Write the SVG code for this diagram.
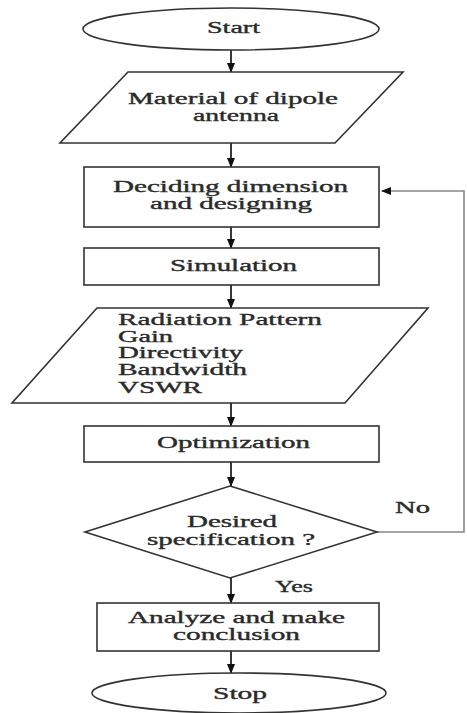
<svg xmlns="http://www.w3.org/2000/svg" width="467" height="713" viewBox="0 0 467 713">
<style>
.shape{fill:#fff;stroke:#333;stroke-width:1.6}
.t{font-family:"Liberation Serif","Times New Roman",serif;font-size:16px;fill:#2a2a2a;stroke:#2a2a2a;stroke-width:0.35}
.conn{stroke:#222;stroke-width:1.8;fill:none}
.fb{stroke:#888;stroke-width:1.6;fill:none}
</style>
<defs>
<marker id="ah" markerWidth="10" markerHeight="8" refX="9" refY="4" orient="auto" markerUnits="userSpaceOnUse">
<path d="M0,0 L10,4 L0,8 Z" fill="#111"/>
</marker>
</defs>
<rect width="467" height="713" fill="#fff"/>
<g id="connectors">
<line class="conn" x1="231" y1="50" x2="231" y2="72" marker-end="url(#ah)"/>
<line class="conn" x1="231" y1="143" x2="231" y2="167" marker-end="url(#ah)"/>
<line class="conn" x1="231" y1="227" x2="231" y2="248" marker-end="url(#ah)"/>
<line class="conn" x1="231" y1="285" x2="231" y2="308" marker-end="url(#ah)"/>
<line class="conn" x1="231" y1="403" x2="231" y2="426" marker-end="url(#ah)"/>
<line class="conn" x1="231" y1="462" x2="231" y2="486" marker-end="url(#ah)"/>
<line class="conn" x1="231" y1="578" x2="231" y2="603" marker-end="url(#ah)"/>
<line class="conn" x1="231" y1="651" x2="231" y2="673" marker-end="url(#ah)"/>
<path class="fb" d="M377,532 H464 V191 H382" marker-end="url(#ah)"/>
<text class="t" x="395" y="513" textLength="35" lengthAdjust="spacingAndGlyphs">No</text>
<text class="t" x="275" y="592" textLength="38" lengthAdjust="spacingAndGlyphs">Yes</text>
</g>
<g id="start">
<ellipse class="shape" cx="231" cy="29" rx="148" ry="21"/>
<text class="t" x="207" y="33" textLength="53" lengthAdjust="spacingAndGlyphs">Start</text>
</g>
<g id="material">
<polygon class="shape" points="128,72 403,72 335,143 60,143"/>
<text class="t" x="128" y="104" textLength="210" lengthAdjust="spacingAndGlyphs">Material of dipole</text>
<text class="t" x="193" y="121" textLength="86" lengthAdjust="spacingAndGlyphs">antenna</text>
</g>
<g id="deciding">
<rect class="shape" x="84" y="167" width="295" height="60"/>
<text class="t" x="113" y="192" textLength="235" lengthAdjust="spacingAndGlyphs">Deciding dimension</text>
<text class="t" x="150" y="209" textLength="162" lengthAdjust="spacingAndGlyphs">and designing</text>
</g>
<g id="simulation">
<rect class="shape" x="84" y="248" width="295" height="37"/>
<text class="t" x="170" y="271" textLength="127" lengthAdjust="spacingAndGlyphs">Simulation</text>
</g>
<g id="results">
<polygon class="shape" points="97,308 428,308 345,403 12,403"/>
<text class="t" x="118" y="325" textLength="204" lengthAdjust="spacingAndGlyphs">Radiation Pattern</text>
<text class="t" x="118" y="342" textLength="55" lengthAdjust="spacingAndGlyphs">Gain</text>
<text class="t" x="118" y="358" textLength="125" lengthAdjust="spacingAndGlyphs">Directivity</text>
<text class="t" x="118" y="375" textLength="129" lengthAdjust="spacingAndGlyphs">Bandwidth</text>
<text class="t" x="118" y="393" textLength="84" lengthAdjust="spacingAndGlyphs">VSWR</text>
</g>
<g id="optimization">
<rect class="shape" x="84" y="426" width="295" height="36"/>
<text class="t" x="157" y="448" textLength="153" lengthAdjust="spacingAndGlyphs">Optimization</text>
</g>
<g id="decision">
<polygon class="shape" points="230,486 377,532 230,578 85,532"/>
<text class="t" x="187" y="527" textLength="90" lengthAdjust="spacingAndGlyphs">Desired</text>
<text class="t" x="147" y="545" textLength="168" lengthAdjust="spacingAndGlyphs">specification ?</text>
</g>
<g id="analyze">
<rect class="shape" x="97" y="603" width="282" height="48"/>
<text class="t" x="128" y="623" textLength="217" lengthAdjust="spacingAndGlyphs">Analyze and make</text>
<text class="t" x="173" y="640" textLength="127" lengthAdjust="spacingAndGlyphs">conclusion</text>
</g>
<g id="stop">
<ellipse class="shape" cx="239" cy="693" rx="147" ry="20"/>
<text class="t" x="213" y="699" textLength="54" lengthAdjust="spacingAndGlyphs">Stop</text>
</g>
</svg>
